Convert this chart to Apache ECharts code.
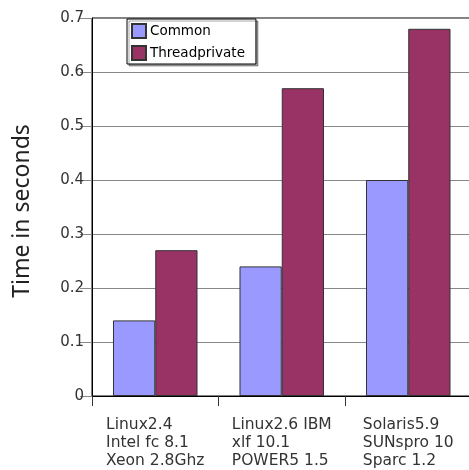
<!DOCTYPE html>
<html>
<head>
<meta charset="utf-8">
<script src="https://cdn.jsdelivr.net/npm/echarts@6/dist/echarts.min.js"></script>
<style>
html,body{margin:0;padding:0;background:#fff;overflow:hidden;width:469px;height:470px;}
#chart{width:469px;height:470px;}
</style>
</head>
<body>
<div id="chart"></div>
<script>
var categories = ['Linux2.4\nIntel fc 8.1\nXeon 2.8Ghz', 'Linux2.6 IBM\nxlf 10.1\nPOWER5 1.5', 'Solaris5.9\nSUNspro 10\nSparc 1.2'];
var commonValues = [0.14, 0.24, 0.40];
var threadprivateValues = [0.27, 0.57, 0.68];
var yTicks = {min: 0, max: 0.7, interval: 0.1};

var chart = echarts.init(document.getElementById('chart'), null, {renderer: 'canvas', width: 469, height: 470});
var font = 'DejaVu Sans';
chart.setOption({
  animation: false,
  backgroundColor: '#fff',
  grid: {left: 92, top: 18, bottom: 74, right: -2.5, outerBoundsMode: 'none', containLabel: false,
         show: true, borderColor: '#000', borderWidth: 1, backgroundColor: 'transparent'},
  legend: {
    orient: 'vertical', left: 127, top: 19,
    padding: [4, 11, 3, 4],
    icon: 'rect',
    itemWidth: 14, itemHeight: 14, itemGap: 6,
    backgroundColor: '#fff', borderColor: '#000', borderWidth: 1,
    shadowColor: 'rgba(0,0,0,0.35)', shadowOffsetX: 2, shadowOffsetY: 2, shadowBlur: 0,
    textStyle: {fontFamily: font, fontSize: 13.5, color: '#000', padding: [0, 0, 0, -1]},
    data: ['Common', 'Threadprivate']
  },
  xAxis: {
    type: 'category', data: categories,
    boundaryGap: true,
    axisLine: {lineStyle: {color: '#000', width: 1}},
    axisTick: {show: true, length: 10, lineStyle: {color: '#333'}},
    axisLabel: {
      margin: 20, interval: 0, hideOverlap: false,
      fontFamily: font, fontSize: 15.5, color: '#333', lineHeight: 18,
      formatter: function (v) {
        return v.split('\n').map(function (l) { return '{l|' + l + '}'; }).join('\n');
      },
      rich: {l: {align: 'left', fontFamily: font, fontSize: 15.5, color: '#333', lineHeight: 18}}
    }
  },
  yAxis: {
    type: 'value', min: yTicks.min, max: yTicks.max, interval: yTicks.interval,
    name: 'Time in seconds', nameLocation: 'middle', nameGap: 58, nameRotate: 90,
    nameTextStyle: {fontFamily: 'Noto Sans', fontSize: 23, color: '#222', padding: [0, 8, 0, 0]},
    axisLine: {show: true, lineStyle: {color: '#000', width: 1}},
    axisTick: {show: true, length: 12, lineStyle: {color: '#888'}},
    axisLabel: {margin: 8, fontFamily: font, fontSize: 15, color: '#333'},
    splitLine: {show: true, lineStyle: {color: '#888', width: 1}}
  },
  series: [
    {name: 'Common', type: 'bar', data: commonValues, barGap: '0%', barCategoryGap: '33.2%',
     itemStyle: {color: '#9999ff', borderColor: '#333', borderWidth: 1}},
    {name: 'Threadprivate', type: 'bar', data: threadprivateValues, barGap: '0%', barCategoryGap: '33.2%',
     itemStyle: {color: '#993366', borderColor: '#333', borderWidth: 1}}
  ]
});
</script>
</body>
</html>
